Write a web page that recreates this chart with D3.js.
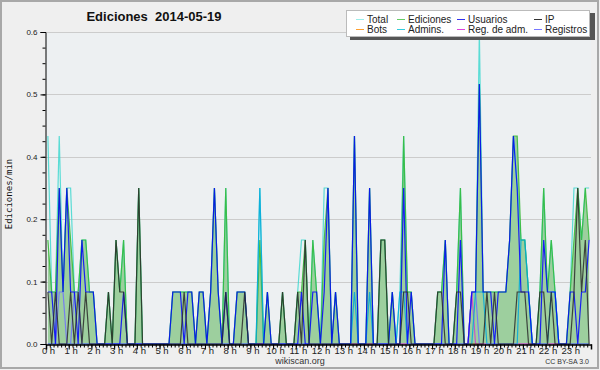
<!DOCTYPE html>
<html>
<head>
<meta charset="utf-8">
<script src="https://cdn.jsdelivr.net/npm/d3@7"></script>
<style>
  body { margin: 0; background: #fff; }
  svg { display: block; font-family: "Liberation Sans", sans-serif; }
</style>
</head>
<body>
<svg width="600" height="370"></svg>
<script>
// counts of edits per 10 min bin (value = n / 10 edits per minute), 144 bins
const hours = d3.range(24);
const yTicks = [0, 0.12, 0.24, 0.36, 0.48, 0.6];

const total = [
  4,1,1,4,1,3,  3,1,1,2,2,1,  1,0,0,0,1,0,  2,1,2,0,0,0,
  3,0,0,0,0,0,  0,0,0,1,1,1,  1,1,1,0,1,1,  0,1,3,1,0,3,
  0,0,1,1,1,0,  0,0,3,0,1,0,  0,0,1,0,0,0,  1,2,2,0,2,1,
  0,3,3,0,1,0,  0,0,0,4,0,0,  0,3,0,0,2,2,  0,1,0,1,4,1,
  1,0,0,0,0,0,  0,1,1,2,0,0,  1,3,0,0,1,1,  6,1,1,1,1,1,
  1,1,2,4,3,2,  2,1,0,0,1,3,  1,2,1,0,0,0,  1,3,3,2,3,3
];
const ediciones = [
  2,1,1,3,1,3,  2,1,1,2,2,1,  1,0,0,0,1,0,  2,1,2,0,0,0,
  3,0,0,0,0,0,  0,0,0,1,1,1,  1,1,1,0,1,1,  0,1,3,1,0,3,
  0,0,1,1,1,0,  0,0,2,0,1,0,  0,0,1,0,0,0,  1,1,2,0,2,1,
  0,2,3,0,1,0,  0,0,0,4,0,0,  0,3,0,0,2,2,  0,1,0,0,4,1,
  1,0,0,0,0,0,  0,1,1,2,0,0,  1,3,0,0,1,1,  5,1,1,1,1,1,
  1,1,2,4,4,2,  2,1,0,0,1,3,  1,2,1,0,0,0,  1,2,3,2,3,2
];
const usuarios = [
  1,1,0,3,1,3,  1,1,0,2,1,1,  1,0,0,0,0,0,  0,0,1,0,0,0,
  0,0,0,0,0,0,  0,0,0,1,1,1,  0,1,1,0,1,1,  0,1,3,1,0,1,
  0,0,1,1,1,0,  0,0,0,0,1,0,  0,0,0,0,0,0,  0,1,0,0,1,1,
  0,1,3,0,1,0,  0,0,0,4,0,0,  0,3,0,0,0,0,  0,1,0,0,3,0,
  1,0,0,0,0,0,  0,0,0,2,0,0,  0,2,0,0,1,1,  5,1,1,1,0,1,
  1,1,2,4,3,1,  1,1,0,0,0,2,  1,1,1,0,0,0,  1,1,0,1,1,2
];
const ip = [
  1,0,1,0,0,0,  1,0,1,0,1,0,  0,0,0,0,1,0,  2,1,1,0,0,0,
  3,0,0,0,0,0,  0,0,0,0,0,0,  1,0,0,0,0,0,  0,0,0,0,0,1,
  0,0,0,0,1,0,  0,0,0,0,0,0,  0,0,1,0,0,0,  1,0,2,0,0,0,
  0,0,0,0,0,0,  0,0,0,0,0,0,  0,0,0,0,2,2,  0,0,0,0,1,1,
  0,0,0,0,0,0,  0,1,1,0,0,0,  1,1,0,0,0,0,  0,0,1,0,1,0,
  0,0,0,0,1,1,  1,0,0,0,1,1,  0,1,0,0,0,0,  0,1,3,1,2,0
];
const admins = [
  0,0,0,0,0,0,  0,0,0,0,0,0,  0,0,0,0,0,0,  0,0,0,0,0,0,
  0,0,0,0,0,0,  0,0,0,0,0,0,  0,0,0,0,0,0,  0,0,0,0,0,0,
  0,0,0,0,0,0,  0,0,3,0,0,0,  0,0,0,0,0,0,  0,0,0,0,0,0,
  0,0,0,0,0,0,  0,0,0,1,0,0,  0,1,0,0,0,0,  0,0,0,1,1,0,
  0,0,0,0,0,0,  0,0,0,0,0,0,  0,0,0,0,0,1,  1,1,0,0,0,0,
  0,0,0,0,0,2,  2,1,0,0,0,0,  0,1,1,0,0,0,  0,0,0,0,0,0
];
const registros = [
  0,0,0,1,1,0,  0,1,1,0,0,0,  0,0,0,0,0,0,  0,0,0,0,0,0,
  0,0,0,0,0,0,  0,0,0,0,0,0,  0,0,0,0,0,0,  0,0,0,0,0,0,
  0,0,0,0,0,0,  0,0,0,0,0,0,  0,0,0,0,0,0,  0,0,0,0,0,0,
  0,0,0,0,0,0,  0,0,0,0,0,0,  0,0,0,0,0,0,  0,0,0,0,0,0,
  0,0,0,0,0,0,  0,0,0,0,0,0,  0,0,0,0,1,1,  0,0,0,0,0,0,
  0,0,0,0,0,0,  0,0,0,0,0,0,  0,0,0,0,0,0,  0,0,0,0,0,0
];
const regAdm = [
  0,0,0,0,0,0,  0,0,0,0,0,0,  0,0,0,0,0,0,  0,0,0,0,0,0,
  0,0,0,0,0,0,  0,0,0,0,0,0,  0,0,0,0,0,0,  0,0,0,0,0,0,
  0,0,0,0,0,0,  0,0,0,0,0,0,  0,0,0,0,0,0,  0,0,0,0,0,0,
  0,0,0,0,0,0,  0,0,0,0,0,0,  0,0,0,0,0,0,  0,0,0,0,0,0,
  0,0,0,0,0,0,  0,0,0,0,0,0,  0,0,0,0,1,0,  0,0,0,0,0,0,
  0,0,0,0,0,0,  0,0,0,0,0,0,  0,0,0,0,0,0,  0,0,0,0,0,0
];
const bots = d3.range(144).map(() => 0);

const legendNames = ["Total", "Ediciones", "Usuarios", "IP", "Bots", "Admins.", "Reg. de adm.", "Registros"];
const legendColors = ["#9aeeea", "#66cc66", "#3333ee", "#333333", "#ffa030", "#33ccdd", "#dd44dd", "#7777ff"];

// series drawn as lines, in drawing order
const series = [
  { data: bots, color: "#ffa030" },
  { data: total, color: "#40d8d0" },
  { data: ediciones, color: "#33b833" },
  { data: registros, color: "#7070ff" },
  { data: regAdm, color: "#d040d0" },
  { data: admins, color: "#00a8dc" },
  { data: usuarios, color: "#0000ff" },
  { data: ip, color: "#2a2a2a" }
];

const svg = d3.select("svg");
const W = 600, H = 370;
const pLeft = 46, pRight = 591, pTop = 32, pBottom = 344;

svg.append("rect").attr("width", W).attr("height", H).attr("fill", "#efefef");
svg.append("rect").attr("x", 1).attr("y", 1).attr("width", 597).attr("height", 367)
  .attr("fill", "none").attr("stroke", "#a8a8a8").attr("stroke-width", 2);

const x = d3.scaleLinear().domain([0, 144]).range([pLeft, pRight]);
const y = d3.scaleLinear().domain([0, 0.6]).range([pBottom, pTop]);

svg.append("rect").attr("x", pLeft).attr("y", pTop).attr("width", pRight - pLeft).attr("height", pBottom - pTop)
  .attr("fill", "#edf0f2");

// grid
svg.append("g").selectAll("line").data(yTicks.slice(1)).join("line")
  .attr("x1", pLeft).attr("x2", pRight)
  .attr("y1", d => Math.round(y(d)) + 0.5).attr("y2", d => Math.round(y(d)) + 0.5)
  .attr("stroke", "#cccccc").attr("stroke-width", 1);

// area of Ediciones
const area = d3.area()
  .x((d, i) => x(i + 0.5))
  .y0(y(0))
  .y1(d => y(d / 10));
svg.append("path").datum(ediciones).attr("d", area)
  .attr("fill", "#99cc99").attr("fill-opacity", 0.95);

const line = d3.line()
  .x((d, i) => x(i + 0.5))
  .y(d => y(d / 10));

series.forEach(s => {
  svg.append("path").datum(s.data).attr("d", line)
    .attr("fill", "none").attr("stroke", s.color)
    .attr("stroke-width", 1.2).attr("stroke-opacity", 0.85);
});

// y axis
const yAxis = svg.append("g").attr("transform", `translate(${pLeft - 0.5},0)`)
  .call(d3.axisLeft(y).tickValues(yTicks).tickSize(5).tickFormat(d3.format(".1f")));
yAxis.select(".domain").attr("stroke", "#000");
yAxis.selectAll("text").attr("font-size", 8).attr("fill", "#222").attr("font-family", "Liberation Sans");
svg.append("g").attr("transform", `translate(${pLeft - 0.5},0)`)
  .call(d3.axisLeft(y).tickValues(d3.range(0, 0.61, 0.03)).tickSize(3).tickFormat(""))
  .select(".domain").remove();

// x axis
const xAxis = svg.append("g").attr("transform", `translate(0,${pBottom + 0.5})`)
  .call(d3.axisBottom(x).tickValues(hours.map(h => h * 6)).tickSize(5)
    .tickFormat(d => (d / 6) + " h"));
xAxis.select(".domain").attr("stroke", "#000").attr("stroke-width", 1.5);
xAxis.selectAll("text").attr("font-size", 9.5).attr("fill", "#222")
  .attr("font-family", "Liberation Sans").attr("y", 3).attr("dx", 2);
svg.append("g").attr("transform", `translate(0,${pBottom + 0.5})`)
  .call(d3.axisBottom(x).tickValues(d3.range(0, 145)).tickSize(3).tickFormat(""))
  .select(".domain").remove();

// title and labels
svg.append("text").attr("x", 154).attr("y", 21).attr("text-anchor", "middle")
  .attr("font-size", 13).attr("font-weight", "bold").attr("fill", "#111")
  .style("white-space", "pre")
  .text("Ediciones  2014-05-19");
svg.append("text").attr("transform", `translate(12,${(pTop + pBottom) / 2 + 6}) rotate(-90)`)
  .attr("text-anchor", "middle").attr("font-size", 9).attr("fill", "#111")
  .attr("font-family", "DejaVu Sans Mono")
  .text("Ediciones/min");
svg.append("text").attr("x", 300).attr("y", 364).attr("text-anchor", "middle")
  .attr("font-size", 9).attr("fill", "#333").text("wikiscan.org");
svg.append("text").attr("x", 589).attr("y", 364).attr("text-anchor", "end")
  .attr("font-size", 7).attr("fill", "#333").text("CC BY-SA 3.0");

// legend
const lg = svg.append("g");
lg.append("rect").attr("x", 350).attr("y", 13).attr("width", 245).attr("height", 27).attr("fill", "#555");
lg.append("rect").attr("x", 346.5).attr("y", 10.5).attr("width", 243).attr("height", 26)
  .attr("fill", "#fff").attr("stroke", "#bbb");
const colX = [367, 408, 468, 545];
legendNames.forEach((name, k) => {
  const tx = colX[k % 4], cy = k < 4 ? 19 : 29;
  lg.append("line").attr("x1", tx - 11).attr("x2", tx - 3).attr("y1", cy + 0.5).attr("y2", cy + 0.5)
    .attr("stroke", legendColors[k]).attr("stroke-width", 1);
  lg.append("text").attr("x", tx).attr("y", cy + 4).attr("font-size", 10).attr("fill", "#222")
    .text(name);
});
</script>
</body>
</html>
